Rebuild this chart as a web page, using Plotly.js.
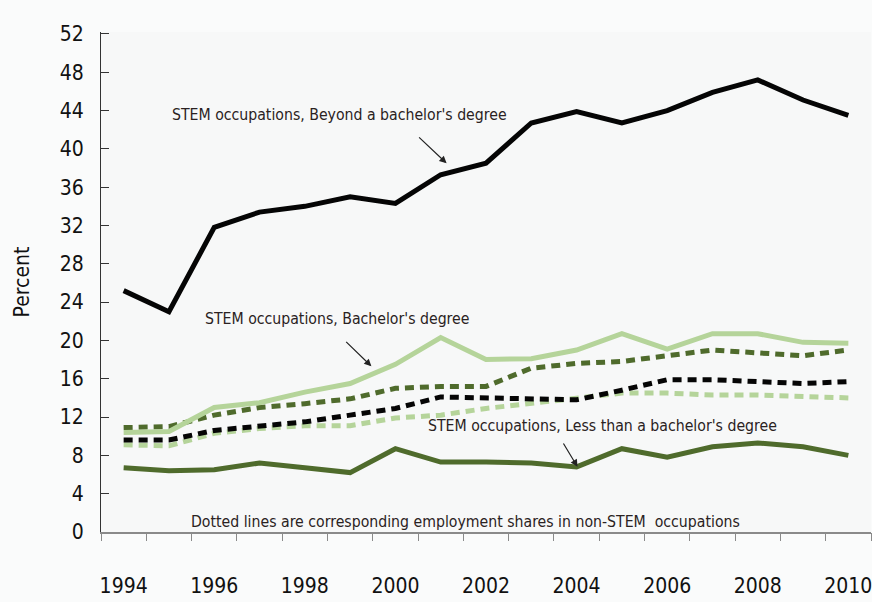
<!DOCTYPE html>
<html><head><meta charset="utf-8">
<script src="https://cdn.plot.ly/plotly-3.0.1.min.js"></script>
<style>html,body{margin:0;padding:0;background:#fafbfb}</style>
</head><body>
<div id="chart" style="width:872px;height:602px"></div>
<script>
const years = [1994,1995,1996,1997,1998,1999,2000,2001,2002,2003,2004,2005,2006,2007,2008,2009,2010];
const stemBeyond   = [25.2,23.0,31.8,33.4,34.0,35.0,34.3,37.3,38.5,42.7,43.9,42.7,44.0,45.9,47.2,45.1,43.5];
const stemBachelor = [10.4,10.5,13.0,13.5,14.6,15.5,17.5,20.3,18.0,18.1,19.0,20.7,19.1,20.7,20.7,19.8,19.7];
const stemLess     = [6.7,6.4,6.5,7.2,6.7,6.2,8.7,7.3,7.3,7.2,6.8,8.7,7.8,8.9,9.3,8.9,8.0];
const nonBeyond    = [10.9,11.0,12.2,13.0,13.4,13.9,15.0,15.2,15.2,17.1,17.6,17.8,18.4,19.0,18.7,18.4,19.0];
const nonBachelor  = [9.6,9.6,10.6,11.0,11.5,12.2,12.9,14.1,14.0,13.9,13.8,14.8,15.9,15.9,15.7,15.5,15.7];
const nonLess      = [9.1,9.0,10.3,10.8,11.1,11.1,11.9,12.2,12.9,13.4,13.9,14.5,14.5,14.3,14.3,14.1,14.0];
const yTicks = [0,4,8,12,16,20,24,28,32,36,40,44,48,52];
const xLabelYears = [1994,1996,1998,2000,2002,2004,2006,2008,2010];
const boundaries = years.map(y => y - 0.5).concat([years[years.length-1] + 0.5]);

const black = '#050505', light = '#b5d49a', dark = '#4f6b2c';
const W = 5, dash = '9px,6px';
function tr(y, color, d) {
  return {x: years, y: y, type: 'scatter', mode: 'lines', line: {color: color, width: W, dash: d}, hoverinfo: 'skip'};
}
const data = [
  tr(nonLess, light, dash),
  tr(nonBachelor, black, dash),
  tr(nonBeyond, dark, dash),
  tr(stemLess, dark, 'solid'),
  tr(stemBachelor, light, 'solid'),
  tr(stemBeyond, black, 'solid'),
  {x: [years[0]], y: [0], xaxis: 'x2', type: 'scatter', mode: 'markers', marker: {opacity: 0}, hoverinfo: 'skip'}
];
const narrow = '"Liberation Sans Narrow", "Arial Narrow", "DejaVu Sans Condensed", sans-serif';
const txt = '#2a2222';
const af = {family: narrow, size: 15.7, color: txt};
function arrow(x, y, ax, ay) {
  return {x: x, y: y, ax: ax, ay: ay, axref: 'x', ayref: 'y', showarrow: true, arrowhead: 2,
          arrowsize: 1.2, arrowwidth: 1.2, arrowcolor: '#222', text: ''};
}
const layout = {
  width: 872, height: 602,
  paper_bgcolor: '#fafbfb', plot_bgcolor: '#f7f8f8',
  margin: {l: 101, r: 1, t: 32, b: 70},
  showlegend: false,
  xaxis: {range: [1993.5, 2010.5], tickvals: xLabelYears, ticktext: xLabelYears.map(String),
          ticks: '', showgrid: false, zeroline: false, showline: true, linecolor: '#8a8a8a', linewidth: 2,
          ticklabeloverflow: 'allow',
          ticklabelstandoff: 34, tickfont: {family: narrow, size: 21, color: '#111'}},
  xaxis2: {overlaying: 'x', matches: 'x', side: 'bottom', tickvals: boundaries, showticklabels: false,
           ticks: 'outside', ticklen: 8, tickcolor: '#8a8a8a', tickwidth: 1, showgrid: false, zeroline: false, showline: false},
  yaxis: {range: [0, 52.2], tickvals: yTicks, ticks: 'inside', ticklen: 8, tickcolor: '#333', tickwidth: 1,
          showgrid: false, zeroline: false, showline: true, linecolor: '#333', linewidth: 1,
          ticklabelstandoff: 12, tickfont: {family: narrow, size: 21, color: '#111'},
          title: {text: 'Percent', font: {family: narrow, size: 21, color: '#111'}, standoff: 24}},
  annotations: [
    arrow(2001.13, 38.5, 2000.49, 41.35),
    arrow(1999.47, 17.3, 1998.88, 20.0),
    arrow(2004.02, 6.8, 2003.69, 9.4),
    {x: 1998.77, y: 43.6, text: "STEM occupations, Beyond a bachelor's degree", showarrow: false, xanchor: 'center', font: af},
    {x: 1998.72, y: 22.3, text: "STEM occupations, Bachelor's degree", showarrow: false, xanchor: 'center', font: af},
    {x: 2004.57, y: 11.1, text: "STEM occupations, Less than a bachelor's degree", showarrow: false, xanchor: 'center', font: af},
    {x: 2001.55, y: 1.05, text: 'Dotted lines are corresponding employment shares in non-STEM  occupations', showarrow: false, xanchor: 'center', font: af}
  ]
};
Plotly.newPlot('chart', data, layout, {staticPlot: true});
</script>
</body></html>
